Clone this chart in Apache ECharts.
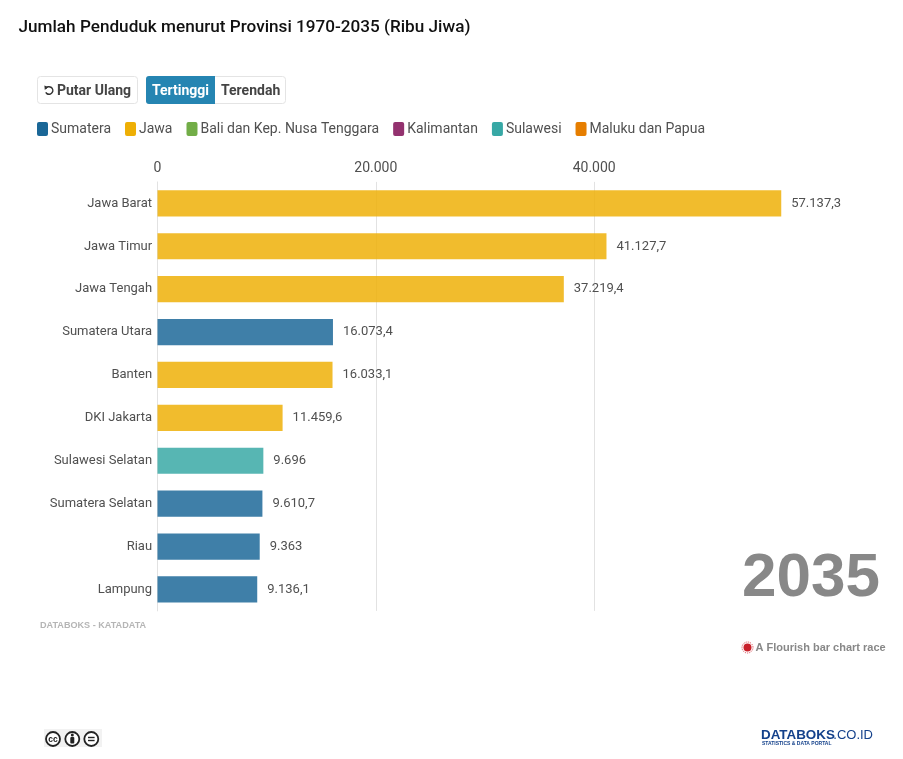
<!DOCTYPE html>
<html><head><meta charset="utf-8">
<style>html,body{margin:0;padding:0;background:#fff}#c{width:903px;height:759px}</style>
<script src="https://cdn.jsdelivr.net/npm/echarts@6/dist/echarts.min.js"></script>
</head><body><div id="c"></div>
<script>
const categories = ['Jawa Barat','Jawa Timur','Jawa Tengah','Sumatera Utara','Banten','DKI Jakarta','Sulawesi Selatan','Sumatera Selatan','Riau','Lampung'];
const values = [57137.3,41127.7,37219.4,16073.4,16033.1,11459.6,9696,9610.7,9363,9136.1];
const itemRegions = ['Jawa','Jawa','Jawa','Sumatera','Jawa','Jawa','Sulawesi','Sumatera','Sumatera','Sumatera'];
const regions = ['Sumatera','Jawa','Bali dan Kep. Nusa Tenggara','Kalimantan','Sulawesi','Maluku dan Papua'];
const regionColors = ['#1a6797','#eeaf05','#72ad47','#93326f','#37a8a5','#e67e00'];
const xTicks = [0,20000,40000];

const fmt = v => {
  const parts = String(v).split('.');
  return parts[0].replace(/\B(?=(\d{3})+$)/g,'.') + (parts[1] ? ',' + parts[1] : '');
};
const ROB = 'Roboto, sans-serif';
const LIB = '"Liberation Sans",Arial,sans-serif';
const series = regions.map((r,ri) => ({
  name:r, type:'bar', stack:'a', barCategoryGap:'39%',
  itemStyle:{color:regionColors[ri],opacity:0.84},
  label:{show:true,position:'right',distance:10,color:'#505050',opacity:1,fontFamily:ROB,fontSize:13,
         formatter:p=>fmt(p.value)},
  data:values.map((v,i)=>itemRegions[i]===r?v:null)
}));
const chart = echarts.init(document.getElementById('c'),null,{renderer:'canvas'});
chart.setOption({
  animation:false,
  backgroundColor:'#fff',
  title:{text:'Jumlah Penduduk menurut Provinsi 1970-2035 (Ribu Jiwa)',left:18.5,top:19,padding:0,
    textStyle:{fontFamily:ROB,fontSize:17.15,fontWeight:500,color:'#111'}},
  legend:{left:37,top:121,padding:0,itemWidth:11,itemHeight:14,itemGap:14,
    icon:'path://M2 0H9a2 2 0 0 1 2 2V12a2 2 0 0 1-2 2H2a2 2 0 0 1-2-2V2a2 2 0 0 1 2-2Z',
    selectedMode:false,itemStyle:{opacity:1},
    textStyle:{fontFamily:ROB,fontSize:14,color:'#505050',lineHeight:16,padding:[0,0,0,-2]},data:regions},
  grid:{left:157.5,top:181.9,width:655,height:429},
  xAxis:{type:'value',position:'top',min:0,max:60000,interval:20000,
    axisLine:{show:false},axisTick:{show:false},
    axisLabel:{color:'#505050',fontFamily:ROB,fontSize:14,margin:6,showMaxLabel:false,
      formatter:v=>xTicks.includes(v)?fmt(v):''},
    splitLine:{show:true,showMaxLine:false,showMinLine:false,lineStyle:{color:'#e2e2e2',width:1}}},
  yAxis:{type:'category',inverse:true,data:categories,
    axisLine:{show:true,lineStyle:{color:'#e2e2e2',width:1}},axisTick:{show:false},
    axisLabel:{color:'#505050',fontFamily:ROB,fontSize:13,margin:5.4}},
  series,
  graphic:{elements:[
    {type:'rect',shape:{x:37.5,y:76.5,width:100,height:27,r:3},style:{fill:'#fff',stroke:'#e4e4e4'}},
    {type:'arc',shape:{cx:49,cy:90.5,r:3.8,startAngle:-2.6,endAngle:2.6,clockwise:true},style:{fill:'none',stroke:'#333',lineWidth:1.5}},
    {type:'polygon',shape:{points:[[44.4,85.6],[48.2,87],[44.8,90]]},style:{fill:'#333'}},
    {type:'text',x:57,y:91,style:{text:'Putar Ulang',fontFamily:ROB,fontSize:14,fontWeight:700,fill:'#444',verticalAlign:'middle'}},
    {type:'rect',shape:{x:146.5,y:76.5,width:139,height:27,r:3},style:{fill:'#fff',stroke:'#e4e4e4'}},
    {type:'rect',shape:{x:146,y:76,width:69,height:28,r:[3,0,0,3]},style:{fill:'#2585b2'}},
    {type:'text',x:152,y:91,style:{text:'Tertinggi',fontFamily:ROB,fontSize:14,fontWeight:700,fill:'#fff',verticalAlign:'middle'}},
    {type:'text',x:221,y:91,style:{text:'Terendah',fontFamily:ROB,fontSize:14,fontWeight:700,fill:'#444',verticalAlign:'middle'}},
    {type:'text',x:880,y:578.5,style:{text:'2035',fontFamily:LIB,fontSize:62,fontWeight:700,fill:'#888',align:'right',verticalAlign:'middle'}},
    {type:'text',x:40,y:625,style:{text:'DATABOKS - KATADATA',fontFamily:LIB,fontSize:9.1,fontWeight:700,fill:'#b5b5b5',verticalAlign:'middle'}},
    {type:'circle',shape:{cx:747.5,cy:647.5,r:4},style:{fill:'#c8202a'}},
    {type:'circle',shape:{cx:747.5,cy:647.5,r:5.5},style:{fill:'none',stroke:'#d9444c',lineWidth:1,lineDash:[1,1]}},
    {type:'text',x:755.5,y:648,style:{text:'A Flourish bar chart race',fontFamily:LIB,fontSize:11,fontWeight:700,fill:'#888',verticalAlign:'middle'}},
    {type:'rect',shape:{x:44,y:729,width:58,height:18},style:{fill:'#f2f2f2'}},
    ...[53,72.3,91.3].map(cx=>({type:'circle',shape:{cx,cy:739,r:7},style:{fill:'#fff',stroke:'#222',lineWidth:1.8}})),
    {type:'text',x:53,y:739.5,style:{text:'cc',fontFamily:LIB,fontSize:8.5,fontWeight:700,fill:'#222',align:'center',verticalAlign:'middle'}},
    {type:'circle',shape:{cx:72.3,cy:735,r:1.5},style:{fill:'#222'}},
    {type:'rect',shape:{x:70.3,y:737,width:4,height:6.5,r:1},style:{fill:'#222'}},
    {type:'rect',shape:{x:88,y:736.8,width:6.6,height:1.4},style:{fill:'#222'}},
    {type:'rect',shape:{x:88,y:739.8,width:6.6,height:1.4},style:{fill:'#222'}},
    {type:'text',x:761,y:735,style:{text:'DATABOKS',fontFamily:LIB,fontSize:13.4,fontWeight:700,fill:'#14418b',verticalAlign:'middle'}},
    {type:'text',x:873,y:735,style:{text:'.CO.ID',fontFamily:LIB,fontSize:13,fill:'#14418b',align:'right',verticalAlign:'middle'}},
    {type:'text',x:762,y:743.5,style:{text:'STATISTICS & DATA PORTAL',fontFamily:LIB,fontSize:5,fontWeight:700,fill:'#14418b',verticalAlign:'middle'}}
  ]}
});
</script></body></html>
